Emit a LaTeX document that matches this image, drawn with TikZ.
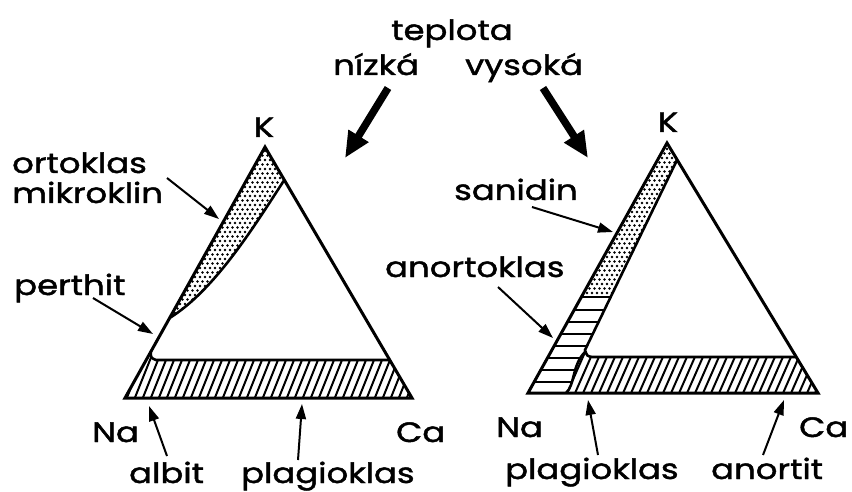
\documentclass[tikz,border=0pt]{standalone}
\usepackage{fontspec}
\newfontfamily\labfont{Poppins}[FakeStretch=1.21,FakeBold=1.6]
\usetikzlibrary{arrows.meta}
\begin{document}
\begin{tikzpicture}[x=1pt,y=-1pt,
  lab/.style={font=\labfont\fontsize{28}{28}\selectfont, inner sep=0pt, anchor=base west},
  labc/.style={font=\labfont\fontsize{28}{28}\selectfont, inner sep=0pt, anchor=base},
  tarrow/.style={line width=2pt, -{Triangle[length=15pt,width=10pt]}},
  bigarrow/.style={line width=7.5pt, -{Triangle[length=26pt,width=22pt]}},
  outline/.style={line width=3pt, line join=miter},
  inner/.style={line width=2.6pt},
  hatch/.style={line width=2pt},
  dotfill/.style={fill=black}
]
\useasboundingbox (0,0) rectangle (852,492);

% ---------- left triangle ----------
\coordinate (NaL) at (125,398);
\coordinate (CaL) at (412,398);
\coordinate (KL) at (265,147);
% hatch band
\begin{scope}
\clip (NaL) -- (CaL) -- (390,360) -- (156,360) .. controls (151,358) .. (150.7,352) -- cycle;
\foreach \i in {0,8,...,330} \draw[hatch] (100+\i,405) -- (100+\i+22,350);
\end{scope}
% dotted band
\begin{scope}
\clip (169.6,318) -- (KL) -- (284.3,180) .. controls (255,225) and (215,290) .. (169.6,318) -- cycle;
\foreach \r in {0,...,40} {
  \foreach \c in {0,...,28} {
    \pgfmathsetmacro{\xx}{160+\c*5+mod(\r,2)*2.5}
    \pgfmathsetmacro{\yy}{142+\r*4.5}
    \fill[dotfill] (\xx,\yy) circle (1.3pt);
  }
}
\end{scope}
\draw[inner] (284.3,180) .. controls (255,225) and (215,290) .. (169.6,318);
\draw[inner] (150.7,352) .. controls (151,358) .. (156,360) -- (390,360);
\draw[outline] (NaL) -- (CaL) -- (KL) -- cycle;

% ---------- right triangle ----------
\coordinate (NaR) at (528,393);
\coordinate (CaR) at (818,393);
\coordinate (KR) at (667,143);
% hatch band
\begin{scope}
\clip (566,393) -- (CaR) -- (796,357) -- (592,357) .. controls (587,356) .. (585,352) .. controls (572,365) and (575,385) .. (566,393) -- cycle;
\foreach \i in {0,8,...,300} \draw[hatch] (540+\i,400) -- (540+\i+22,350);
\end{scope}
% horizontal lines (anortoklas)
\begin{scope}
\clip (581,297) -- (NaR) -- (566,393) .. controls (575,385) and (572,365) .. (585,352) -- (610.7,297) -- cycle;
\foreach \y in {309.5,321.5,333.5,345.5,357.5,369.5,381.5} \draw[hatch] (520,\y) -- (620,\y);
\end{scope}
% dotted strip
\begin{scope}
\clip (581,297) -- (KR) -- (677,160) -- (610.7,297) -- cycle;
\foreach \r in {0,...,36} {
  \foreach \c in {0,...,22} {
    \pgfmathsetmacro{\xx}{572+\c*5+mod(\r,2)*2.5}
    \pgfmathsetmacro{\yy}{140+\r*4.5}
    \fill[dotfill] (\xx,\yy) circle (1.3pt);
  }
}
\end{scope}
\draw[inner] (581,297) -- (610.7,297);
\draw[inner] (677,160) -- (585,350) .. controls (587,356) .. (592,357) -- (796,357);
\draw[inner] (585,352) .. controls (572,365) and (575,385) .. (566,393);
\draw[outline] (NaR) -- (CaR) -- (KR) -- cycle;

% ---------- labels ----------
\node[lab] (teplota) at (391,40) {teplota};
\node[lab] (nizka) at (333,75) {nízká};
\node[lab] (vysoka) at (465,75) {vysoká};
\node[labc] (KLl) at (264,137) {K};
\node[labc] (KRl) at (668,132) {K};
\node[lab] (ortoklas) at (12,173) {ortoklas};
\node[lab] (mikroklin) at (12,203) {mikroklin};
\node[lab] (perthit) at (14,295) {perthit};
\node[lab] (NaLl) at (92,442) {Na};
\node[lab] (CaLl) at (396,442) {Ca};
\node[lab] (albit) at (129,483) {albit};
\node[lab] (plagL) at (241,483) {plagioklas};
\node[lab] (sanidin) at (454,200) {sanidin};
\node[lab] (anortoklas) at (385,277) {anortoklas};
\node[lab] (NaRl) at (496,437) {Na};
\node[lab] (CaRl) at (799,437) {Ca};
\node[lab] (plagR) at (505,479) {plagioklas};
\node[lab] (anortit) at (711,479) {anortit};

% ---------- arrows ----------
\coordinate (a1s) at (388,88);  \coordinate (a1e) at (345,158);
\coordinate (a2s) at (543,88);  \coordinate (a2e) at (588,158);
\draw[bigarrow] (a1s) -- (a1e);
\draw[bigarrow] (a2s) -- (a2e);

\coordinate (ortS) at (167,178); \coordinate (ortE) at (219,219);
\coordinate (perS) at (93,298);  \coordinate (perE) at (153,334);
\coordinate (albS) at (167,456); \coordinate (albE) at (149,406);
\coordinate (plLS) at (298,460); \coordinate (plLE) at (302,404);
\coordinate (sanS) at (532,207); \coordinate (sanE) at (613,232);
\coordinate (anoS) at (498,287); \coordinate (anoE) at (553,338);
\coordinate (plRS) at (598,455); \coordinate (plRE) at (588,400);
\coordinate (antS) at (763,455); \coordinate (antE) at (784,400);
\draw[tarrow] (ortS) -- (ortE);
\draw[tarrow] (perS) -- (perE);
\draw[tarrow] (albS) -- (albE);
\draw[tarrow] (plLS) -- (plLE);
\draw[tarrow] (sanS) -- (sanE);
\draw[tarrow] (anoS) -- (anoE);
\draw[tarrow] (plRS) -- (plRE);
\draw[tarrow] (antS) -- (antE);
\end{tikzpicture}
\end{document}
